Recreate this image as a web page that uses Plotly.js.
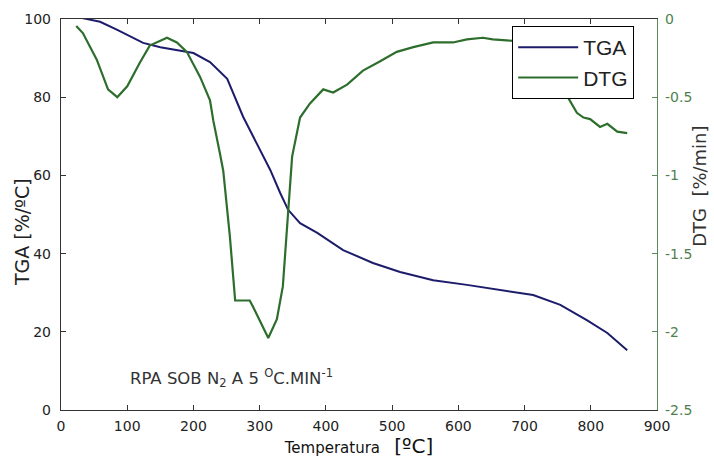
<!DOCTYPE html>
<html>
<head>
<meta charset="utf-8">
<script src="https://cdn.plot.ly/plotly-3.0.1.min.js"></script>
<style>html,body{margin:0;padding:0;background:#fff;}#chart{width:714px;height:459px;}</style>
</head>
<body>
<div id="chart"></div>
<script>
// Temperature (°C) and TGA (%) readings
const tgaTemp = [22, 41, 59, 85, 109, 124, 150, 175, 200, 225, 251, 275, 300, 316, 331, 343, 361, 387, 426, 471, 512, 562, 613, 663, 713, 754, 794, 825, 855];
const tgaValues = [100.6, 100, 99.3, 97.2, 95.1, 93.9, 92.8, 92.1, 91.3, 89.0, 84.7, 75.0, 66.5, 61.4, 55.5, 51.2, 47.8, 45.3, 40.9, 37.6, 35.3, 33.2, 32.0, 30.7, 29.4, 26.9, 23.0, 19.7, 15.3];

// Temperature (°C) and DTG (%/min) readings
const dtgTemp = [23, 33, 54, 71, 85, 100, 119, 134, 160, 175, 190, 210, 225, 230, 240, 245, 255, 263, 285, 290, 313, 326, 335, 343, 349, 361, 376, 396, 411, 432, 456, 482, 507, 532, 562, 592, 613, 637, 652, 683, 710, 735, 755, 764, 779, 789, 799, 814, 825, 840, 855];
const dtgValues = [-0.045, -0.09, -0.26, -0.45, -0.50, -0.43, -0.28, -0.17, -0.12, -0.15, -0.21, -0.37, -0.52, -0.65, -0.86, -0.97, -1.39, -1.80, -1.80, -1.84, -2.04, -1.92, -1.71, -1.22, -0.88, -0.63, -0.54, -0.45, -0.47, -0.42, -0.33, -0.27, -0.21, -0.18, -0.15, -0.15, -0.13, -0.12, -0.13, -0.14, -0.15, -0.22, -0.40, -0.49, -0.60, -0.63, -0.64, -0.69, -0.67, -0.72, -0.73];

const xTicks = [0, 100, 200, 300, 400, 500, 600, 700, 800, 900];
const yTicks = [0, 20, 40, 60, 80, 100];
const y2Ticks = [-2.5, -2, -1.5, -1, -0.5, 0];
const y2TickText = ['-2.5', '-2', '-1.5', '-1', '-0.5', '0'];

const FONT = 'DejaVu Sans, Verdana, sans-serif';
const FONT2 = 'Liberation Sans, Arial, sans-serif';
const AXIS = '#333333';
const GREEN_AXIS = '#5b8a5b';
const nb = '\u00A0';

const traces = [
  {
    x: tgaTemp, y: tgaValues, name: 'TGA', type: 'scatter', mode: 'lines',
    line: {color: '#1c1c6b', width: 2}, yaxis: 'y', cliponaxis: true
  },
  {
    x: dtgTemp, y: dtgValues, name: 'DTG', type: 'scatter', mode: 'lines',
    line: {color: '#2d6e2d', width: 2.2}, yaxis: 'y2', cliponaxis: true
  }
];

const layout = {
  width: 714, height: 459,
  margin: {l: 61, r: 57, t: 19, b: 49, pad: 0},
  paper_bgcolor: '#ffffff', plot_bgcolor: '#ffffff',
  font: {family: FONT, color: '#222222', size: 13},
  showlegend: true,
  legend: {
    x: 0.757, y: 0.982, xanchor: 'left', yanchor: 'top',
    bgcolor: '#ffffff', bordercolor: '#000000', borderwidth: 1,
    font: {family: FONT2, size: 21, color: '#222222'},
    itemwidth: 60, tracegroupgap: 0
  },
  xaxis: {
    range: [0, 900], tickvals: xTicks, ticktext: xTicks.map(String),
    showgrid: false, zeroline: false,
    showline: true, linecolor: AXIS, linewidth: 1.2, mirror: 'ticks',
    ticks: 'inside', ticklen: 5, tickcolor: AXIS,
    tickfont: {family: FONT, size: 14, color: '#222222'},
    ticklabelstandoff: 3,
    title: {
      text: 'Temperatura' + nb + nb + nb + '<span style="font-size:20px">[ºC]</span>',
      font: {family: FONT, size: 15, color: '#111111'}, standoff: 6
    }
  },
  yaxis: {
    range: [0, 100], tickvals: yTicks, ticktext: yTicks.map(String),
    showgrid: false, zeroline: false,
    showline: true, linecolor: AXIS, linewidth: 1.2,
    ticks: 'inside', ticklen: 5, tickcolor: AXIS,
    tickfont: {family: FONT, size: 14, color: '#222222'},
    ticklabelstandoff: 6
  },
  yaxis2: {
    range: [-2.5, 0], overlaying: 'y', side: 'right',
    tickvals: y2Ticks, ticktext: y2TickText,
    showgrid: false, zeroline: false,
    showline: true, linecolor: GREEN_AXIS, linewidth: 1.2,
    ticks: 'inside', ticklen: 5, tickcolor: GREEN_AXIS,
    tickfont: {family: FONT, size: 14, color: '#4f7f4f'},
    ticklabelstandoff: 4
  },
  annotations: [
    {
      xref: 'paper', yref: 'paper', x: -0.0654, y: 0.455, xanchor: 'center', yanchor: 'middle',
      textangle: -90, text: 'TGA [%/ºC]', showarrow: false,
      font: {family: FONT, size: 19, color: '#222222'}
    },
    {
      xref: 'paper', yref: 'paper', x: 1.072, y: 0.573, xanchor: 'center', yanchor: 'middle',
      textangle: -90, text: 'DTG' + nb + nb + '[%/min]', showarrow: false,
      font: {family: FONT, size: 18, color: '#333333'}
    },
    {
      xref: 'x', yref: 'y', x: 257, y: 8.2, xanchor: 'center', yanchor: 'middle',
      text: 'RPA SOB N<sub>2</sub> A 5 <sup>O</sup>C.MIN<sup>-1</sup>',
      showarrow: false, font: {family: FONT, size: 16.5, color: '#333333'}
    }
  ]
};

Plotly.newPlot('chart', traces, layout, {displayModeBar: false, staticPlot: true});
</script>
</body>
</html>
